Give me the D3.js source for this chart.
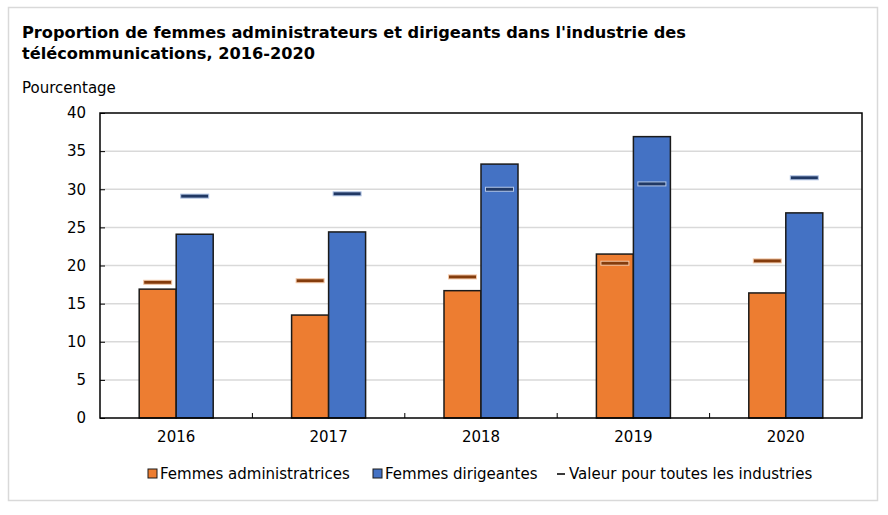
<!DOCTYPE html>
<html lang="fr">
<head>
<meta charset="UTF-8">
<title>Proportion de femmes administrateurs et dirigeants</title>
<script src="https://d3js.org/d3.v7.min.js"></script>
<style>
  body { margin: 0; background: #fff; font-family: Verdana, "DejaVu Sans", sans-serif; }
</style>
</head>
<body>
<div id="chart"></div>
<script>
// data
const years = ["2016", "2017", "2018", "2019", "2020"];
const administratrices = [16.9, 13.5, 16.7, 21.5, 16.4];
const dirigeantes = [24.1, 24.4, 33.3, 36.9, 26.9];
const adminToutes = [17.8, 18.0, 18.5, 20.3, 20.6];
const dirigToutes = [29.1, 29.4, 30.0, 30.7, 31.5];
const yTicks = [0, 5, 10, 15, 20, 25, 30, 35, 40];

const W = 888, H = 515;
const margin = { top: 113, right: 26, bottom: 97, left: 100 };
const width = W - margin.left - margin.right,
      height = H - margin.top - margin.bottom;
const font = "Verdana, 'DejaVu Sans', sans-serif";

const svg = d3.select("#chart").append("svg")
    .attr("width", W).attr("height", H)
    .attr("font-family", font);

// outer frame
svg.append("rect")
    .attr("x", 8.5).attr("y", 7.5)
    .attr("width", 869).attr("height", 493)
    .attr("fill", "none").attr("stroke", "#d9d9d9").attr("stroke-width", 1.5);

svg.append("text")
    .attr("x", 22).attr("y", 38)
    .attr("font-size", "16.2px").attr("font-weight", "bold")
    .text("Proportion de femmes administrateurs et dirigeants dans l'industrie des");
svg.append("text")
    .attr("x", 22).attr("y", 59)
    .attr("font-size", "16.2px").attr("font-weight", "bold")
    .text("télécommunications, 2016-2020");
svg.append("text")
    .attr("x", 22).attr("y", 93)
    .attr("font-size", "15px")
    .text("Pourcentage");

const g = svg.append("g")
    .attr("transform", "translate(" + margin.left + "," + margin.top + ")");

const x = d3.scaleBand().domain(years).range([0, width]);
const y = d3.scaleLinear().domain([0, 40]).range([height, 0]);
const barW = 37;

// grid
g.selectAll(".grid")
    .data(yTicks.slice(1, -1))
    .enter().append("line")
    .attr("x1", 0).attr("x2", width)
    .attr("y1", d => y(d)).attr("y2", d => y(d))
    .attr("stroke", "#d9d9d9").attr("stroke-width", 1.5);

// bars
const groups = g.selectAll(".year")
    .data(years)
    .enter().append("g")
    .attr("transform", d => "translate(" + (x(d) + x.bandwidth() / 2) + ",0)");

groups.append("rect")
    .attr("x", -barW).attr("width", barW)
    .attr("y", (d, i) => y(administratrices[i]))
    .attr("height", (d, i) => height - y(administratrices[i]))
    .attr("fill", "#ed7d31").attr("stroke", "#1a1a1a").attr("stroke-width", 1.5);

groups.append("rect")
    .attr("x", 0).attr("width", barW)
    .attr("y", (d, i) => y(dirigeantes[i]))
    .attr("height", (d, i) => height - y(dirigeantes[i]))
    .attr("fill", "#4472c4").attr("stroke", "#1a1a1a").attr("stroke-width", 1.5);

// all-industry markers
const mW = 28, mH = 4;
groups.append("rect")
    .attr("x", -barW / 2 - mW / 2).attr("width", mW)
    .attr("y", (d, i) => y(adminToutes[i]) - mH / 2).attr("height", mH)
    .attr("fill", "#843c0c").attr("stroke", "#f4c9a8").attr("stroke-width", 1);

groups.append("rect")
    .attr("x", barW / 2 - mW / 2).attr("width", mW)
    .attr("y", (d, i) => y(dirigToutes[i]) - mH / 2).attr("height", mH)
    .attr("fill", "#203864").attr("stroke", "#b4c7e7").attr("stroke-width", 1);

// axes
const yAxis = g.append("g")
    .call(d3.axisLeft(y).tickValues(yTicks).tickSize(-5).tickPadding(14));
yAxis.select(".domain").remove();
yAxis.selectAll(".tick line").attr("stroke", "#000");

const xAxis = g.append("g")
    .attr("transform", "translate(0," + height + ")")
    .call(d3.axisBottom(x).tickSize(0).tickPadding(13));
xAxis.select(".domain").remove();

[yAxis, xAxis].forEach(a => a.attr("font-family", font).attr("font-size", 15)
    .selectAll("text").attr("fill", "#000"));

g.selectAll(".xtick")
    .data(years.slice(1))
    .enter().append("line")
    .attr("x1", d => x(d)).attr("x2", d => x(d))
    .attr("y1", height).attr("y2", height - 5)
    .attr("stroke", "#000");

// plot frame
g.append("rect")
    .attr("width", width).attr("height", height)
    .attr("fill", "none").attr("stroke", "#000").attr("stroke-width", 1.5);

// legend
const legendItems = [
    { label: "Femmes administratrices", color: "#ed7d31", type: "box", x: 148 },
    { label: "Femmes dirigeantes", color: "#4472c4", type: "box", x: 373 },
    { label: "Valeur pour toutes les industries", color: "#843c0c", type: "dash", x: 557 }
];
const legend = svg.append("g").attr("transform", "translate(0,474)");
legendItems.forEach(d => {
    if (d.type === "box") {
        legend.append("rect")
            .attr("x", d.x).attr("y", -5).attr("width", 9).attr("height", 9)
            .attr("fill", d.color).attr("stroke", "#1a1a1a").attr("stroke-width", 1);
    } else {
        legend.append("rect")
            .attr("x", d.x).attr("y", -1).attr("width", 8).attr("height", 2)
            .attr("fill", "#3a3a3a");
    }
    legend.append("text")
        .attr("x", d.x + (d.type === "box" ? 12 : 12)).attr("y", 5)
        .attr("font-size", "15px")
        .text(d.label);
});
</script>
</body>
</html>
